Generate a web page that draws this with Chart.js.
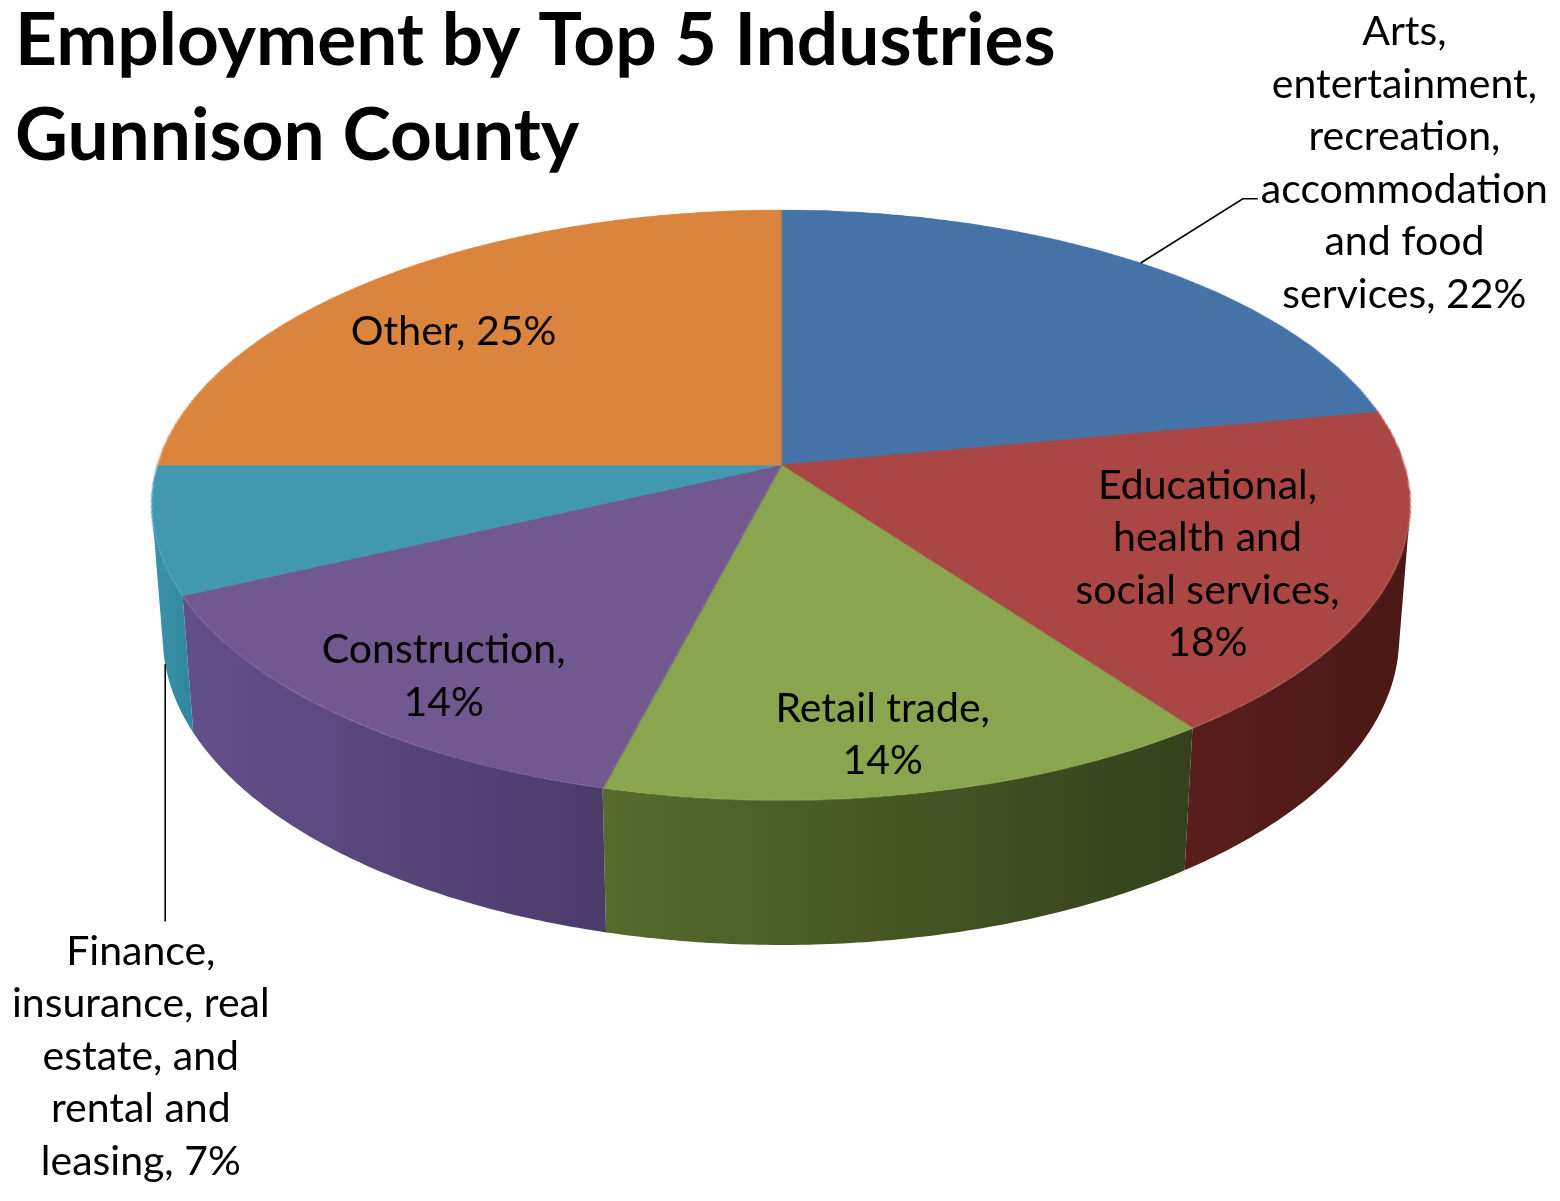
<!DOCTYPE html>
<html>
<head>
<meta charset="utf-8">
<title>Employment by Top 5 Industries – Gunnison County</title>
<script src="https://cdn.jsdelivr.net/npm/chart.js@4.4.1/dist/chart.umd.min.js"></script>
<style>
  html, body { margin: 0; padding: 0; background: #ffffff; overflow: hidden; }
  canvas { display: block; }
</style>
</head>
<body>
<canvas id="chart" width="1560" height="1201"></canvas>
<script>
// ---- data ----
const titleLines = ['Employment by Top 5 Industries', 'Gunnison County'];
const categories = [
  'Arts, entertainment, recreation, accommodation and food services',
  'Educational, health and social services',
  'Retail trade',
  'Construction',
  'Finance, insurance, real estate, and rental and leasing',
  'Other'
];
const shares = [22, 18, 14, 14, 7, 25];

// wrapped category names used for the data labels
const labelNameLines = [
  ['Arts,', 'entertainment,', 'recreation,', 'accommodation', 'and food', 'services,'],
  ['Educational,', 'health and', 'social services,'],
  ['Retail trade,'],
  ['Construction,'],
  ['Finance,', 'insurance, real', 'estate, and', 'rental and', 'leasing,'],
  ['Other,']
];
// true: percentage on its own line, false: appended to the last name line
const percentOnOwnLine = [false, true, true, true, false, false];
// where each label goes: inside the slice, or in a corner with a leader line
const labelPlacement = ['topRight', 'inside', 'inside', 'inside', 'bottomLeft', 'inside'];

// ---- styles ----
const topColors  = ['#4572a7', '#aa4643', '#89a54e', '#71588f', '#4198af', '#db843d'];
const sideColors = [
  ['#2f4f78', '#263f60'],
  ['#581e1c', '#4a1816'],
  ['#566b2c', '#34411c'],
  ['#63508a', '#4b3b69'],
  ['#3a93aa', '#2f879d'],
  ['#9a5c2a', '#7c4a22']
];
// distance of an inside label from the centre, as a fraction of the radius
const labelRadius = [0.78, 0.71, 0.78, 0.78, 0.78, 0.80];

// 3-D view of the pie (lengths in pie radii)
const CAMERA_DISTANCE = 6.53;
const ELEVATION = 27.69 * Math.PI / 180;
const THICKNESS = 0.242;

const LABEL_FONT = '41px Lato';
const LINE_H = 52.5;
const TITLE_FONT = 'bold 73px Lato';
const LABEL_DROP = 20;

function percentText(i) {
  const total = shares.reduce((a, b) => a + b, 0);
  return Math.round(shares[i] / total * 100) + '%';
}
function labelText(i) {
  const lines = labelNameLines[i].slice();
  if (percentOnOwnLine[i]) lines.push(percentText(i));
  else lines[lines.length - 1] += ' ' + percentText(i);
  return lines;
}

// perspective camera: the flat pie drawn by the library is viewed from above-front,
// scaled so that the top face spans the chart area's width
function view(chart) {
  const ca = chart.chartArea;
  const arc = chart.getDatasetMeta(0).data[0];
  const c = Math.cos(ELEVATION) / CAMERA_DISTANCE;
  const e = Math.sin(ELEVATION) / CAMERA_DISTANCE;
  const A = (ca.right - ca.left) / 2 * Math.sqrt(1 - c * c);
  const B = A * Math.sin(ELEVATION);
  return {
    ox: arc.x, oy: arc.y, r: arc.outerRadius,
    cx: (ca.left + ca.right) / 2, cy: ca.top + B / (1 + c),
    A, B, Ac: A * Math.cos(ELEVATION), c, e
  };
}
// u, v: position on the pie in radii (v towards the viewer), z: height (0 = top face)
function proj(V, u, v, z) {
  const w = 1 - V.c * v - V.e * z;
  return { x: V.cx + V.A * u / w, y: V.cy + (V.B * v - V.Ac * z) / w, w };
}

const pie3d = {
  id: 'pie3d',
  afterDatasetsDraw(chart) {
    const ctx = chart.ctx;
    const canvas = chart.canvas;
    const pr = chart.currentDevicePixelRatio || 1;
    const V = view(chart);
    const meta = chart.getDatasetMeta(0);

    // take the flat pie the library just drew
    const flat = document.createElement('canvas');
    flat.width = canvas.width;
    flat.height = canvas.height;
    flat.getContext('2d').drawImage(canvas, 0, 0);
    ctx.save();
    ctx.setTransform(1, 0, 0, 1, 0, 0);
    ctx.clearRect(0, 0, canvas.width, canvas.height);
    ctx.restore();

    // side walls facing the camera
    const ts = Math.asin(Math.min(1, 1 / (CAMERA_DISTANCE * Math.cos(ELEVATION))));
    meta.data.forEach((el, i) => {
      const a0 = Math.max(el.startAngle, ts);
      const a1 = Math.min(el.endAngle, Math.PI - ts);
      if (a1 <= a0) return;
      const n = Math.max(2, Math.ceil((a1 - a0) / 0.01));
      const top = [], bot = [];
      for (let j = 0; j <= n; j++) {
        const t = a0 + (a1 - a0) * j / n;
        top.push(proj(V, Math.cos(t), Math.sin(t), 0));
        bot.push(proj(V, Math.cos(t), Math.sin(t), -THICKNESS));
      }
      ctx.beginPath();
      top.forEach((p, j) => (j ? ctx.lineTo(p.x, p.y) : ctx.moveTo(p.x, p.y)));
      for (let j = n; j >= 0; j--) ctx.lineTo(bot[j].x, bot[j].y);
      ctx.closePath();
      const grad = ctx.createLinearGradient(Math.min(top[n].x, bot[n].x), 0, Math.max(top[0].x, bot[0].x), 0);
      grad.addColorStop(0, sideColors[i][0]);
      grad.addColorStop(1, sideColors[i][1]);
      ctx.fillStyle = grad;
      ctx.fill();
    });

    // top face: each screen row samples one row of the flat pie
    ctx.save();
    ctx.imageSmoothingEnabled = true;
    ctx.imageSmoothingQuality = 'high';
    const vAt = Y => { const d = Y - V.cy; return d / (V.B + V.c * d); };
    const yTop = V.cy - V.B / (1 + V.c);
    const yBot = V.cy + V.B / (1 - V.c);
    const m = 3;
    for (let Y = Math.floor(yTop) - 1; Y <= Math.ceil(yBot) + 1; Y++) {
      const va = vAt(Y), vb = vAt(Y + 1);
      const w = 1 - V.c * (va + vb) / 2;
      const k = V.A / (w * V.r);
      const sy0 = V.oy + va * V.r;
      const sy1 = V.oy + vb * V.r;
      const sx0 = V.ox - V.r - m;
      const sw = 2 * (V.r + m);
      ctx.drawImage(flat, sx0 * pr, sy0 * pr, sw * pr, (sy1 - sy0) * pr,
                    V.cx - (V.r + m) * k, Y, sw * k, 1);
    }
    ctx.restore();

    // data labels
    ctx.save();
    ctx.font = LABEL_FONT;
    ctx.fillStyle = '#000000';
    ctx.strokeStyle = '#000000';
    ctx.lineWidth = 1.6;
    ctx.textAlign = 'center';
    ctx.textBaseline = 'middle';
    meta.data.forEach((el, i) => {
      const lines = labelText(i);
      const mid = (el.startAngle + el.endAngle) / 2;
      const place = labelPlacement[i];
      if (place === 'inside') {
        const f = labelRadius[i];
        const p = proj(V, f * Math.cos(mid), f * Math.sin(mid), 0);
        const y = p.y + LABEL_DROP / p.w;
        const top = y - (lines.length - 1) * LINE_H / 2;
        lines.forEach((t, k) => ctx.fillText(t, p.x, top + k * LINE_H));
        return;
      }
      const widths = lines.map(t => ctx.measureText(t).width);
      const w = Math.max(...widths);
      const widest = widths.indexOf(w);
      if (place === 'topRight') {
        const bx = chart.width - 12 - w / 2;
        const by = 6 + LINE_H / 2;
        lines.forEach((t, k) => ctx.fillText(t, bx, by + k * LINE_H));
        const a = proj(V, Math.cos(mid), Math.sin(mid), 0);
        const ly = by + widest * LINE_H + 9;
        const xEnd = bx - w / 2 - 3;
        ctx.beginPath();
        ctx.moveTo(a.x, a.y);
        ctx.lineTo(xEnd - 15, ly);
        ctx.lineTo(xEnd, ly);
        ctx.stroke();
      } else {
        const bx = 12 + w / 2;
        const lastY = chart.height - 13 - LINE_H / 2;
        const by = lastY - (lines.length - 1) * LINE_H;
        lines.forEach((t, k) => ctx.fillText(t, bx, by + k * LINE_H));
        const a = proj(V, Math.cos(mid), Math.sin(mid), -THICKNESS);
        ctx.beginPath();
        ctx.moveTo(a.x, a.y);
        ctx.lineTo(a.x, by - LINE_H / 2 - 4);
        ctx.stroke();
      }
    });
    ctx.restore();
  },
  afterDraw(chart) {
    const ctx = chart.ctx;
    ctx.save();
    ctx.font = TITLE_FONT;
    ctx.fillStyle = '#000000';
    ctx.textAlign = 'left';
    ctx.textBaseline = 'alphabetic';
    ctx.fillText(titleLines[0], 15, 65);
    ctx.fillText(titleLines[1], 15, 160);
    ctx.restore();
  }
};

new Chart(document.getElementById('chart'), {
  type: 'pie',
  data: {
    labels: categories,
    datasets: [{
      data: shares,
      backgroundColor: topColors,
      borderColor: topColors,
      borderWidth: 1,
      clip: false
    }]
  },
  options: {
    responsive: false,
    animation: false,
    events: [],
    layout: { padding: { left: 152, right: 150, top: 210, bottom: 256 } },
    plugins: {
      legend: { display: false },
      tooltip: { enabled: false },
      title: { display: false }
    }
  },
  plugins: [pie3d]
});
</script>
</body>
</html>
